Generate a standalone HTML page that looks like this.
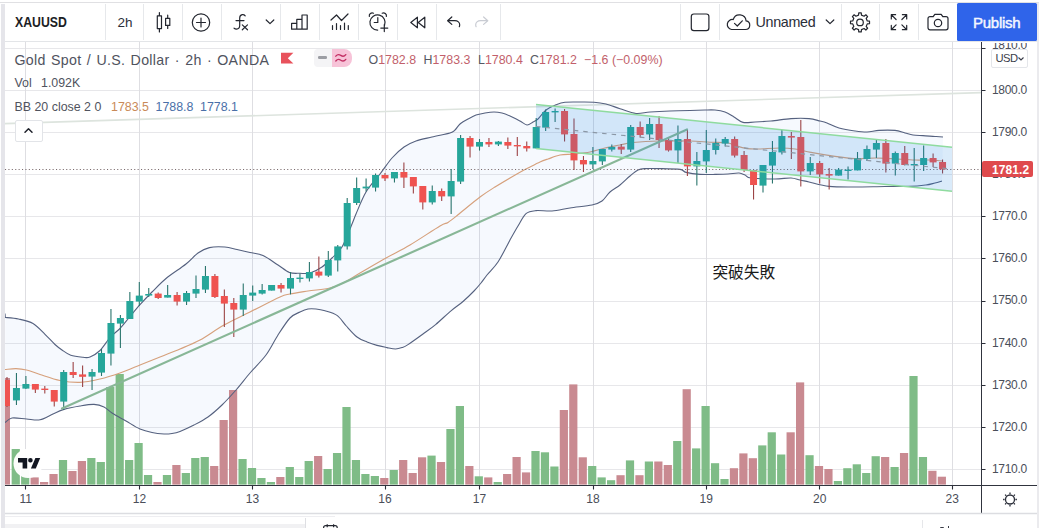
<!DOCTYPE html>
<html><head><meta charset="utf-8"><title>XAUUSD</title>
<style>
html,body{margin:0;padding:0;background:#fff;}
body{width:1039px;height:528px;position:relative;overflow:hidden;font-family:"Liberation Sans",sans-serif;color:#4a4e59;}
.chart{position:absolute;left:0;top:0;}
.t{position:absolute;white-space:nowrap;line-height:1;}
.sep{position:absolute;top:4px;width:1px;height:36px;background:#e6e8eb;}
.ic{position:absolute;}
.ax{position:absolute;left:992px;font-size:12px;letter-spacing:-0.3px;color:#4a4e59;line-height:1;white-space:nowrap;}
.day{position:absolute;top:493px;font-size:12px;color:#4a4e59;line-height:1;width:40px;text-align:center;}
</style></head><body>

<svg class="chart" width="1039" height="528" viewBox="0 0 1039 528">
<path d="M5 48.5H981M5 90.5H981M5 132.5H981M5 174.5H981M5 216.5H981M5 258.5H981M5 301.5H981M5 343.5H981M5 385.5H981M5 427.5H981M5 469.5H981" stroke="#e7e7ea" stroke-width="1" fill="none"/>
<path d="M25.5 42V485M139.5 42V485M252.5 42V485M385.5 42V485M479.5 42V485M593.5 42V485M706.5 42V485M819.5 42V485M952.5 42V485" stroke="#dedee2" stroke-width="1" fill="none"/>
<line x1="5" y1="123.6" x2="981" y2="92.6" stroke="#dde4de" stroke-width="1.6"/>
<path d="M5.3 317.5C7.4 317.7 14.1 318.0 18.5 319.0C22.9 320.0 28.8 321.1 33.0 323.5C37.2 325.9 41.5 330.9 45.0 334.3C48.5 337.7 52.3 342.0 55.0 344.5C57.7 347.0 59.5 348.3 62.0 350.0C64.5 351.7 67.4 354.1 70.8 355.3C74.2 356.5 79.9 357.0 83.0 357.3C86.1 357.6 87.3 358.1 90.0 357.0C92.7 355.9 96.7 353.7 100.0 350.5C103.3 347.3 107.3 340.5 110.5 337.0C113.7 333.5 116.9 331.8 120.0 328.5C123.1 325.2 126.8 320.3 130.0 316.5C133.2 312.7 136.5 308.6 140.0 304.7C143.5 300.8 147.8 296.2 152.0 292.0C156.2 287.8 160.6 283.0 166.0 278.5C171.4 274.0 180.9 268.1 186.0 264.0C191.1 259.9 194.3 255.6 198.0 253.0C201.7 250.4 205.1 248.6 209.4 247.6C213.7 246.6 220.4 246.7 224.8 247.0C229.2 247.3 233.0 248.6 237.0 249.5C241.0 250.4 245.8 251.5 250.0 252.5C254.2 253.5 258.5 253.5 263.0 255.5C267.5 257.5 273.8 262.3 278.0 265.0C282.2 267.7 286.0 271.2 289.5 272.5C293.0 273.8 296.7 273.2 300.0 273.3C303.3 273.4 306.5 274.0 310.0 273.0C313.5 272.0 318.5 269.4 322.0 267.0C325.5 264.6 328.8 261.2 332.0 258.0C335.2 254.8 338.8 252.4 342.0 247.0C345.2 241.6 349.8 229.3 352.0 224.0C354.2 218.7 353.8 219.1 356.0 214.0C358.2 208.9 362.2 198.4 366.0 192.0C369.8 185.6 375.8 179.4 380.0 174.0C384.2 168.6 388.2 162.3 392.0 158.0C395.8 153.7 400.2 149.7 404.0 147.0C407.8 144.3 411.5 142.6 416.0 141.0C420.5 139.4 426.6 138.3 432.0 137.0C437.4 135.7 446.3 134.1 450.0 133.0C453.7 131.9 453.4 131.4 455.0 130.0C456.6 128.6 457.9 125.8 460.0 124.0C462.1 122.2 465.4 120.4 468.0 119.0C470.6 117.6 473.3 116.0 476.0 115.0C478.7 114.0 482.1 113.5 485.0 113.0C487.9 112.5 491.3 112.0 494.0 112.0C496.7 112.0 499.4 112.4 502.0 113.0C504.6 113.6 507.1 114.7 510.0 116.0C512.9 117.3 517.3 119.6 520.0 121.0C522.7 122.4 524.9 124.8 527.0 125.0C529.1 125.2 531.2 123.0 533.0 122.0C534.8 121.0 535.9 120.9 538.0 119.0C540.1 117.1 543.1 112.3 546.0 110.0C548.9 107.7 553.0 105.9 556.0 104.7C559.0 103.5 561.2 102.6 565.0 102.2C568.8 101.8 575.4 102.0 580.0 102.0C584.6 102.0 589.8 101.9 594.0 102.2C598.2 102.5 601.8 103.0 606.0 104.0C610.2 105.0 615.2 107.2 620.0 108.7C624.8 110.2 631.2 113.0 636.0 113.5C640.8 114.0 644.6 112.4 650.0 112.0C655.4 111.6 663.6 111.2 670.0 111.0C676.4 110.8 684.4 110.7 690.0 110.5C695.6 110.3 701.0 110.1 705.0 110.0C709.0 109.9 711.8 109.7 715.0 110.0C718.2 110.3 722.0 110.9 725.0 112.0C728.0 113.1 731.1 115.3 734.0 117.0C736.9 118.7 739.6 121.6 743.0 122.4C746.4 123.2 750.5 122.2 755.0 122.0C759.5 121.8 765.2 121.5 771.0 121.0C776.8 120.5 784.9 119.0 791.0 118.6C797.1 118.2 804.4 118.2 809.0 118.6C813.6 119.0 817.1 120.3 820.0 121.0C822.9 121.7 824.0 121.9 827.0 123.0C830.0 124.1 834.5 126.7 839.0 128.0C843.5 129.3 850.5 130.4 855.0 131.0C859.5 131.6 863.2 132.1 867.0 132.0C870.8 131.9 874.5 130.7 879.0 130.4C883.5 130.1 890.8 130.0 895.0 130.4C899.2 130.8 902.1 132.3 905.0 133.0C907.9 133.7 910.1 134.6 913.0 135.0C915.9 135.4 919.5 135.4 923.0 135.6C926.5 135.8 931.8 136.3 935.0 136.5C938.2 136.7 941.7 136.9 943.0 137.0L942.0 181.0C940.9 181.3 937.6 182.4 935.0 183.0C932.4 183.6 930.0 184.5 926.0 185.0C922.0 185.5 916.6 186.2 910.0 186.4C903.4 186.6 893.8 186.4 885.0 186.5C876.2 186.6 864.0 187.0 855.0 187.0C846.0 187.0 836.4 187.2 829.0 186.4C821.6 185.6 813.6 183.0 809.0 182.0C804.4 181.0 802.9 180.6 800.0 180.0C797.1 179.4 795.0 178.2 791.0 178.0C787.0 177.8 781.4 179.0 775.0 179.0C768.6 179.0 755.8 178.6 751.0 178.0C746.2 177.4 746.9 175.8 745.0 175.0C743.1 174.2 741.7 173.2 739.0 173.0C736.3 172.8 731.8 173.8 728.0 174.0C724.2 174.2 719.5 174.3 715.0 174.4C710.5 174.5 704.6 174.7 700.0 174.4C695.4 174.1 689.2 173.2 686.0 172.4C682.8 171.6 684.2 170.0 680.0 169.4C675.8 168.8 665.6 168.7 660.0 168.6C654.4 168.5 648.5 168.4 645.0 168.6C641.5 168.8 640.4 168.8 638.0 170.0C635.6 171.2 632.9 173.6 630.0 176.0C627.1 178.4 623.2 182.4 620.0 185.0C616.8 187.6 612.9 189.4 610.0 192.0C607.1 194.6 604.9 198.9 602.0 201.0C599.1 203.1 597.1 203.9 592.0 205.0C586.9 206.1 576.4 207.0 570.0 208.0C563.6 209.0 557.4 210.6 552.0 211.0C546.6 211.4 540.2 210.2 536.0 210.6C531.8 211.0 528.9 211.1 526.0 213.6C523.1 216.1 520.6 221.8 518.0 226.0C515.4 230.2 513.2 234.2 510.0 240.0C506.8 245.8 501.7 256.4 498.0 262.0C494.3 267.6 489.7 271.6 487.0 275.0C484.3 278.4 483.1 280.4 481.0 283.0C478.9 285.6 476.9 288.0 474.0 291.0C471.1 294.0 466.7 298.3 463.0 301.5C459.3 304.7 455.4 307.1 451.0 310.8C446.6 314.5 440.1 320.9 435.6 324.6C431.1 328.3 427.4 330.8 423.0 334.0C418.6 337.2 411.4 342.4 408.0 344.6C404.6 346.8 404.0 346.9 402.0 347.6C400.0 348.3 398.0 349.0 395.6 349.0C393.2 349.0 390.0 348.2 387.0 347.6C384.0 347.0 380.2 346.3 377.0 345.4C373.8 344.5 370.2 343.3 367.0 342.0C363.8 340.7 360.3 339.6 357.0 337.0C353.7 334.4 349.5 329.5 346.3 326.0C343.1 322.5 340.4 317.8 337.0 315.4C333.6 313.0 328.4 311.8 325.0 310.8C321.6 309.8 318.7 309.3 316.0 309.0C313.3 308.7 310.6 308.5 308.0 309.0C305.4 309.5 302.9 310.6 300.0 312.0C297.1 313.4 293.5 314.3 290.0 318.0C286.5 321.7 281.8 329.1 278.0 335.0C274.2 340.9 270.5 348.9 266.0 355.0C261.5 361.1 254.8 367.4 250.0 373.0C245.2 378.6 240.5 384.9 236.0 390.0C231.5 395.1 226.5 400.7 222.0 405.0C217.5 409.3 212.5 413.8 208.0 417.0C203.5 420.2 198.5 422.7 194.0 425.0C189.5 427.3 183.5 430.0 180.0 431.4C176.5 432.8 174.6 433.1 172.0 433.5C169.4 433.9 167.2 434.2 164.0 434.0C160.8 433.8 155.8 433.3 152.0 432.5C148.2 431.7 144.2 430.8 140.0 429.0C135.8 427.2 130.5 423.6 126.0 421.0C121.5 418.4 115.5 415.2 112.0 413.0C108.5 410.8 106.9 408.4 104.0 407.0C101.1 405.6 97.8 404.6 94.0 404.4C90.2 404.2 84.8 405.2 80.0 406.0C75.2 406.8 68.3 408.1 64.0 409.4C59.7 410.7 56.8 412.3 53.0 414.0C49.2 415.7 44.2 419.0 40.0 419.8C35.8 420.6 31.0 419.3 26.5 419.0C22.0 418.7 15.4 417.4 12.0 418.0C8.6 418.6 6.1 421.8 5.0 422.5Z" fill="#2f7fe0" fill-opacity="0.042"/>
<rect x="5.00" y="378.0" width="5.00" height="106.6" fill="#c98a91"/>
<rect x="11.65" y="449.0" width="8.20" height="35.6" fill="#7fbc87"/>
<rect x="21.10" y="470.0" width="8.20" height="14.6" fill="#7fbc87"/>
<rect x="30.55" y="477.4" width="8.20" height="7.2" fill="#c98a91"/>
<rect x="40.00" y="482.0" width="8.20" height="2.6" fill="#c98a91"/>
<rect x="49.45" y="474.0" width="8.20" height="10.6" fill="#c98a91"/>
<rect x="58.90" y="460.0" width="8.20" height="24.6" fill="#7fbc87"/>
<rect x="68.35" y="471.0" width="8.20" height="13.6" fill="#c98a91"/>
<rect x="77.80" y="461.0" width="8.20" height="23.6" fill="#c98a91"/>
<rect x="87.25" y="458.0" width="8.20" height="26.6" fill="#7fbc87"/>
<rect x="96.70" y="462.0" width="8.20" height="22.6" fill="#7fbc87"/>
<rect x="106.15" y="387.0" width="8.20" height="97.6" fill="#7fbc87"/>
<rect x="115.60" y="374.0" width="8.20" height="110.6" fill="#7fbc87"/>
<rect x="125.05" y="460.0" width="8.20" height="24.6" fill="#7fbc87"/>
<rect x="134.50" y="443.0" width="8.20" height="41.6" fill="#7fbc87"/>
<rect x="143.95" y="475.0" width="8.20" height="9.6" fill="#7fbc87"/>
<rect x="153.40" y="482.0" width="8.20" height="2.6" fill="#c98a91"/>
<rect x="162.85" y="475.0" width="8.20" height="9.6" fill="#7fbc87"/>
<rect x="172.30" y="465.0" width="8.20" height="19.6" fill="#c98a91"/>
<rect x="181.75" y="473.0" width="8.20" height="11.6" fill="#7fbc87"/>
<rect x="191.20" y="458.0" width="8.20" height="26.6" fill="#7fbc87"/>
<rect x="200.65" y="457.0" width="8.20" height="27.6" fill="#7fbc87"/>
<rect x="210.10" y="466.0" width="8.20" height="18.6" fill="#c98a91"/>
<rect x="219.55" y="420.0" width="8.20" height="64.6" fill="#c98a91"/>
<rect x="229.00" y="390.0" width="8.20" height="94.6" fill="#c98a91"/>
<rect x="238.45" y="459.0" width="8.20" height="25.6" fill="#7fbc87"/>
<rect x="247.90" y="468.0" width="8.20" height="16.6" fill="#7fbc87"/>
<rect x="257.35" y="478.0" width="8.20" height="6.6" fill="#7fbc87"/>
<rect x="266.80" y="482.0" width="8.20" height="2.6" fill="#7fbc87"/>
<rect x="276.25" y="477.0" width="8.20" height="7.6" fill="#c98a91"/>
<rect x="285.70" y="467.0" width="8.20" height="17.6" fill="#7fbc87"/>
<rect x="295.15" y="477.0" width="8.20" height="7.6" fill="#7fbc87"/>
<rect x="304.60" y="461.0" width="8.20" height="23.6" fill="#7fbc87"/>
<rect x="314.05" y="456.0" width="8.20" height="28.6" fill="#c98a91"/>
<rect x="323.50" y="469.0" width="8.20" height="15.6" fill="#7fbc87"/>
<rect x="332.95" y="453.0" width="8.20" height="31.6" fill="#7fbc87"/>
<rect x="342.40" y="407.0" width="8.20" height="77.6" fill="#7fbc87"/>
<rect x="351.85" y="460.0" width="8.20" height="24.6" fill="#7fbc87"/>
<rect x="361.30" y="474.0" width="8.20" height="10.6" fill="#7fbc87"/>
<rect x="370.75" y="476.0" width="8.20" height="8.6" fill="#7fbc87"/>
<rect x="380.20" y="478.0" width="8.20" height="6.6" fill="#c98a91"/>
<rect x="389.65" y="470.0" width="8.20" height="14.6" fill="#7fbc87"/>
<rect x="399.10" y="460.0" width="8.20" height="24.6" fill="#c98a91"/>
<rect x="408.55" y="473.0" width="8.20" height="11.6" fill="#c98a91"/>
<rect x="418.00" y="457.3" width="8.20" height="27.3" fill="#c98a91"/>
<rect x="427.45" y="455.6" width="8.20" height="29.0" fill="#7fbc87"/>
<rect x="436.90" y="462.0" width="8.20" height="22.6" fill="#c98a91"/>
<rect x="446.35" y="429.0" width="8.20" height="55.6" fill="#7fbc87"/>
<rect x="455.80" y="406.0" width="8.20" height="78.6" fill="#7fbc87"/>
<rect x="465.25" y="466.0" width="8.20" height="18.6" fill="#c98a91"/>
<rect x="474.70" y="476.3" width="8.20" height="8.3" fill="#7fbc87"/>
<rect x="484.15" y="477.4" width="8.20" height="7.2" fill="#c98a91"/>
<rect x="493.60" y="482.0" width="8.20" height="2.6" fill="#7fbc87"/>
<rect x="503.05" y="474.0" width="8.20" height="10.6" fill="#c98a91"/>
<rect x="512.50" y="457.0" width="8.20" height="27.6" fill="#c98a91"/>
<rect x="521.95" y="472.4" width="8.20" height="12.2" fill="#c98a91"/>
<rect x="531.40" y="451.0" width="8.20" height="33.6" fill="#7fbc87"/>
<rect x="540.85" y="452.3" width="8.20" height="32.3" fill="#7fbc87"/>
<rect x="550.30" y="466.5" width="8.20" height="18.1" fill="#7fbc87"/>
<rect x="559.75" y="410.0" width="8.20" height="74.6" fill="#c98a91"/>
<rect x="569.20" y="384.4" width="8.20" height="100.2" fill="#c98a91"/>
<rect x="578.65" y="457.3" width="8.20" height="27.3" fill="#c98a91"/>
<rect x="588.10" y="466.0" width="8.20" height="18.6" fill="#7fbc87"/>
<rect x="597.55" y="477.4" width="8.20" height="7.2" fill="#7fbc87"/>
<rect x="607.00" y="480.2" width="8.20" height="4.4" fill="#7fbc87"/>
<rect x="616.45" y="475.2" width="8.20" height="9.4" fill="#c98a91"/>
<rect x="625.90" y="460.4" width="8.20" height="24.2" fill="#7fbc87"/>
<rect x="635.35" y="475.2" width="8.20" height="9.4" fill="#c98a91"/>
<rect x="644.80" y="461.5" width="8.20" height="23.1" fill="#7fbc87"/>
<rect x="654.25" y="461.5" width="8.20" height="23.1" fill="#c98a91"/>
<rect x="663.70" y="465.0" width="8.20" height="19.6" fill="#c98a91"/>
<rect x="673.15" y="441.0" width="8.20" height="43.6" fill="#7fbc87"/>
<rect x="682.60" y="389.2" width="8.20" height="95.4" fill="#c98a91"/>
<rect x="692.05" y="448.4" width="8.20" height="36.2" fill="#7fbc87"/>
<rect x="701.50" y="406.0" width="8.20" height="78.6" fill="#7fbc87"/>
<rect x="710.95" y="463.2" width="8.20" height="21.4" fill="#7fbc87"/>
<rect x="720.40" y="479.0" width="8.20" height="5.6" fill="#7fbc87"/>
<rect x="729.85" y="468.2" width="8.20" height="16.4" fill="#c98a91"/>
<rect x="739.30" y="453.4" width="8.20" height="31.2" fill="#c98a91"/>
<rect x="748.75" y="458.2" width="8.20" height="26.4" fill="#c98a91"/>
<rect x="758.20" y="445.4" width="8.20" height="39.2" fill="#7fbc87"/>
<rect x="767.65" y="432.3" width="8.20" height="52.3" fill="#7fbc87"/>
<rect x="777.10" y="454.5" width="8.20" height="30.1" fill="#7fbc87"/>
<rect x="786.55" y="432.3" width="8.20" height="52.3" fill="#c98a91"/>
<rect x="796.00" y="382.4" width="8.20" height="102.2" fill="#c98a91"/>
<rect x="805.45" y="455.2" width="8.20" height="29.4" fill="#7fbc87"/>
<rect x="814.90" y="466.0" width="8.20" height="18.6" fill="#c98a91"/>
<rect x="824.35" y="469.0" width="8.20" height="15.6" fill="#c98a91"/>
<rect x="833.80" y="481.0" width="8.20" height="3.6" fill="#7fbc87"/>
<rect x="843.25" y="468.2" width="8.20" height="16.4" fill="#7fbc87"/>
<rect x="852.70" y="464.3" width="8.20" height="20.3" fill="#7fbc87"/>
<rect x="862.15" y="473.0" width="8.20" height="11.6" fill="#7fbc87"/>
<rect x="871.60" y="456.2" width="8.20" height="28.4" fill="#7fbc87"/>
<rect x="881.05" y="457.0" width="8.20" height="27.6" fill="#c98a91"/>
<rect x="890.50" y="467.0" width="8.20" height="17.6" fill="#7fbc87"/>
<rect x="899.95" y="453.0" width="8.20" height="31.6" fill="#c98a91"/>
<rect x="909.40" y="376.0" width="8.20" height="108.6" fill="#7fbc87"/>
<rect x="918.85" y="457.0" width="8.20" height="27.6" fill="#7fbc87"/>
<rect x="928.30" y="470.8" width="8.20" height="13.8" fill="#c98a91"/>
<rect x="937.75" y="476.7" width="8.20" height="7.9" fill="#c98a91"/>
<path d="M5.0 369.5C6.8 369.4 12.6 368.5 16.0 368.6C19.4 368.7 22.7 369.1 26.5 370.0C30.3 370.9 34.6 372.8 40.0 374.5C45.4 376.2 53.6 379.2 60.0 380.5C66.4 381.8 73.6 382.6 80.0 382.4C86.4 382.2 93.6 380.5 100.0 379.0C106.4 377.5 113.6 375.2 120.0 373.0C126.4 370.8 133.6 367.6 140.0 365.0C146.4 362.4 153.6 359.6 160.0 357.0C166.4 354.4 173.6 351.7 180.0 349.0C186.4 346.3 193.0 343.8 200.0 340.0C207.0 336.2 216.0 329.5 224.0 325.0C232.0 320.5 241.0 316.5 250.0 312.0C259.0 307.5 273.6 299.9 280.0 297.0C286.4 294.1 285.5 295.0 290.0 294.0C294.5 293.0 301.6 292.0 308.0 291.0C314.4 290.0 324.1 289.4 330.0 288.0C335.9 286.6 340.2 284.4 345.0 282.0C349.8 279.6 353.4 276.8 360.0 273.0C366.6 269.2 378.0 262.5 386.0 258.0C394.0 253.5 401.4 250.1 410.0 245.0C418.6 239.9 433.9 229.6 440.0 226.0C446.1 222.4 445.1 224.2 448.0 222.4C450.9 220.6 452.9 218.9 458.0 214.8C463.1 210.7 474.1 201.4 480.0 197.0C485.9 192.6 490.2 190.0 495.0 187.0C499.8 184.0 505.4 180.7 510.0 178.0C514.6 175.3 521.1 171.6 524.0 170.0C526.9 168.4 525.4 169.3 528.0 168.0C530.6 166.7 536.8 163.4 540.0 162.0C543.2 160.6 544.8 160.1 548.0 159.0C551.2 157.9 555.8 155.8 560.0 155.0C564.2 154.2 569.2 154.5 574.0 154.0C578.8 153.5 585.0 153.0 590.0 152.0C595.0 151.0 600.2 149.1 605.0 148.0C609.8 146.9 615.5 145.9 620.0 145.0C624.5 144.1 626.8 143.1 633.0 142.5C639.2 141.9 649.9 141.2 659.0 141.0C668.1 140.8 681.8 140.8 690.0 141.0C698.2 141.2 703.9 141.9 710.0 142.2C716.1 142.5 724.0 142.5 728.0 143.0C732.0 143.5 732.0 144.7 735.0 145.6C738.0 146.5 743.3 148.1 747.0 148.6C750.7 149.1 752.7 149.1 758.0 149.0C763.3 148.9 774.1 148.0 780.0 148.0C785.9 148.0 790.0 148.3 795.0 149.0C800.0 149.7 804.6 151.2 811.0 152.4C817.4 153.6 828.0 155.4 835.0 156.4C842.0 157.4 848.6 158.3 855.0 158.6C861.4 158.9 869.2 158.0 875.0 158.0C880.8 158.0 884.6 158.3 891.0 158.6C897.4 158.9 908.8 159.8 915.0 160.0C921.2 160.2 925.7 159.8 930.0 160.0C934.3 160.2 940.1 160.8 942.0 161.0" fill="none" stroke="#d6a07c" stroke-width="1.15"/>
<path d="M5.0 313.5L5.3 317.5C7.4 317.7 14.1 318.0 18.5 319.0C22.9 320.0 28.8 321.1 33.0 323.5C37.2 325.9 41.5 330.9 45.0 334.3C48.5 337.7 52.3 342.0 55.0 344.5C57.7 347.0 59.5 348.3 62.0 350.0C64.5 351.7 67.4 354.1 70.8 355.3C74.2 356.5 79.9 357.0 83.0 357.3C86.1 357.6 87.3 358.1 90.0 357.0C92.7 355.9 96.7 353.7 100.0 350.5C103.3 347.3 107.3 340.5 110.5 337.0C113.7 333.5 116.9 331.8 120.0 328.5C123.1 325.2 126.8 320.3 130.0 316.5C133.2 312.7 136.5 308.6 140.0 304.7C143.5 300.8 147.8 296.2 152.0 292.0C156.2 287.8 160.6 283.0 166.0 278.5C171.4 274.0 180.9 268.1 186.0 264.0C191.1 259.9 194.3 255.6 198.0 253.0C201.7 250.4 205.1 248.6 209.4 247.6C213.7 246.6 220.4 246.7 224.8 247.0C229.2 247.3 233.0 248.6 237.0 249.5C241.0 250.4 245.8 251.5 250.0 252.5C254.2 253.5 258.5 253.5 263.0 255.5C267.5 257.5 273.8 262.3 278.0 265.0C282.2 267.7 286.0 271.2 289.5 272.5C293.0 273.8 296.7 273.2 300.0 273.3C303.3 273.4 306.5 274.0 310.0 273.0C313.5 272.0 318.5 269.4 322.0 267.0C325.5 264.6 328.8 261.2 332.0 258.0C335.2 254.8 338.8 252.4 342.0 247.0C345.2 241.6 349.8 229.3 352.0 224.0C354.2 218.7 353.8 219.1 356.0 214.0C358.2 208.9 362.2 198.4 366.0 192.0C369.8 185.6 375.8 179.4 380.0 174.0C384.2 168.6 388.2 162.3 392.0 158.0C395.8 153.7 400.2 149.7 404.0 147.0C407.8 144.3 411.5 142.6 416.0 141.0C420.5 139.4 426.6 138.3 432.0 137.0C437.4 135.7 446.3 134.1 450.0 133.0C453.7 131.9 453.4 131.4 455.0 130.0C456.6 128.6 457.9 125.8 460.0 124.0C462.1 122.2 465.4 120.4 468.0 119.0C470.6 117.6 473.3 116.0 476.0 115.0C478.7 114.0 482.1 113.5 485.0 113.0C487.9 112.5 491.3 112.0 494.0 112.0C496.7 112.0 499.4 112.4 502.0 113.0C504.6 113.6 507.1 114.7 510.0 116.0C512.9 117.3 517.3 119.6 520.0 121.0C522.7 122.4 524.9 124.8 527.0 125.0C529.1 125.2 531.2 123.0 533.0 122.0C534.8 121.0 535.9 120.9 538.0 119.0C540.1 117.1 543.1 112.3 546.0 110.0C548.9 107.7 553.0 105.9 556.0 104.7C559.0 103.5 561.2 102.6 565.0 102.2C568.8 101.8 575.4 102.0 580.0 102.0C584.6 102.0 589.8 101.9 594.0 102.2C598.2 102.5 601.8 103.0 606.0 104.0C610.2 105.0 615.2 107.2 620.0 108.7C624.8 110.2 631.2 113.0 636.0 113.5C640.8 114.0 644.6 112.4 650.0 112.0C655.4 111.6 663.6 111.2 670.0 111.0C676.4 110.8 684.4 110.7 690.0 110.5C695.6 110.3 701.0 110.1 705.0 110.0C709.0 109.9 711.8 109.7 715.0 110.0C718.2 110.3 722.0 110.9 725.0 112.0C728.0 113.1 731.1 115.3 734.0 117.0C736.9 118.7 739.6 121.6 743.0 122.4C746.4 123.2 750.5 122.2 755.0 122.0C759.5 121.8 765.2 121.5 771.0 121.0C776.8 120.5 784.9 119.0 791.0 118.6C797.1 118.2 804.4 118.2 809.0 118.6C813.6 119.0 817.1 120.3 820.0 121.0C822.9 121.7 824.0 121.9 827.0 123.0C830.0 124.1 834.5 126.7 839.0 128.0C843.5 129.3 850.5 130.4 855.0 131.0C859.5 131.6 863.2 132.1 867.0 132.0C870.8 131.9 874.5 130.7 879.0 130.4C883.5 130.1 890.8 130.0 895.0 130.4C899.2 130.8 902.1 132.3 905.0 133.0C907.9 133.7 910.1 134.6 913.0 135.0C915.9 135.4 919.5 135.4 923.0 135.6C926.5 135.8 931.8 136.3 935.0 136.5C938.2 136.7 941.7 136.9 943.0 137.0" fill="none" stroke="#55617f" stroke-width="1.1" stroke-linejoin="round"/>
<path d="M5.0 422.5C6.1 421.8 8.6 418.6 12.0 418.0C15.4 417.4 22.0 418.7 26.5 419.0C31.0 419.3 35.8 420.6 40.0 419.8C44.2 419.0 49.2 415.7 53.0 414.0C56.8 412.3 59.7 410.7 64.0 409.4C68.3 408.1 75.2 406.8 80.0 406.0C84.8 405.2 90.2 404.2 94.0 404.4C97.8 404.6 101.1 405.6 104.0 407.0C106.9 408.4 108.5 410.8 112.0 413.0C115.5 415.2 121.5 418.4 126.0 421.0C130.5 423.6 135.8 427.2 140.0 429.0C144.2 430.8 148.2 431.7 152.0 432.5C155.8 433.3 160.8 433.8 164.0 434.0C167.2 434.2 169.4 433.9 172.0 433.5C174.6 433.1 176.5 432.8 180.0 431.4C183.5 430.0 189.5 427.3 194.0 425.0C198.5 422.7 203.5 420.2 208.0 417.0C212.5 413.8 217.5 409.3 222.0 405.0C226.5 400.7 231.5 395.1 236.0 390.0C240.5 384.9 245.2 378.6 250.0 373.0C254.8 367.4 261.5 361.1 266.0 355.0C270.5 348.9 274.2 340.9 278.0 335.0C281.8 329.1 286.5 321.7 290.0 318.0C293.5 314.3 297.1 313.4 300.0 312.0C302.9 310.6 305.4 309.5 308.0 309.0C310.6 308.5 313.3 308.7 316.0 309.0C318.7 309.3 321.6 309.8 325.0 310.8C328.4 311.8 333.6 313.0 337.0 315.4C340.4 317.8 343.1 322.5 346.3 326.0C349.5 329.5 353.7 334.4 357.0 337.0C360.3 339.6 363.8 340.7 367.0 342.0C370.2 343.3 373.8 344.5 377.0 345.4C380.2 346.3 384.0 347.0 387.0 347.6C390.0 348.2 393.2 349.0 395.6 349.0C398.0 349.0 400.0 348.3 402.0 347.6C404.0 346.9 404.6 346.8 408.0 344.6C411.4 342.4 418.6 337.2 423.0 334.0C427.4 330.8 431.1 328.3 435.6 324.6C440.1 320.9 446.6 314.5 451.0 310.8C455.4 307.1 459.3 304.7 463.0 301.5C466.7 298.3 471.1 294.0 474.0 291.0C476.9 288.0 478.9 285.6 481.0 283.0C483.1 280.4 484.3 278.4 487.0 275.0C489.7 271.6 494.3 267.6 498.0 262.0C501.7 256.4 506.8 245.8 510.0 240.0C513.2 234.2 515.4 230.2 518.0 226.0C520.6 221.8 523.1 216.1 526.0 213.6C528.9 211.1 531.8 211.0 536.0 210.6C540.2 210.2 546.6 211.4 552.0 211.0C557.4 210.6 563.6 209.0 570.0 208.0C576.4 207.0 586.9 206.1 592.0 205.0C597.1 203.9 599.1 203.1 602.0 201.0C604.9 198.9 607.1 194.6 610.0 192.0C612.9 189.4 616.8 187.6 620.0 185.0C623.2 182.4 627.1 178.4 630.0 176.0C632.9 173.6 635.6 171.2 638.0 170.0C640.4 168.8 641.5 168.8 645.0 168.6C648.5 168.4 654.4 168.5 660.0 168.6C665.6 168.7 675.8 168.8 680.0 169.4C684.2 170.0 682.8 171.6 686.0 172.4C689.2 173.2 695.4 174.1 700.0 174.4C704.6 174.7 710.5 174.5 715.0 174.4C719.5 174.3 724.2 174.2 728.0 174.0C731.8 173.8 736.3 172.8 739.0 173.0C741.7 173.2 743.1 174.2 745.0 175.0C746.9 175.8 746.2 177.4 751.0 178.0C755.8 178.6 768.6 179.0 775.0 179.0C781.4 179.0 787.0 177.8 791.0 178.0C795.0 178.2 797.1 179.4 800.0 180.0C802.9 180.6 804.4 181.0 809.0 182.0C813.6 183.0 821.6 185.6 829.0 186.4C836.4 187.2 846.0 187.0 855.0 187.0C864.0 187.0 876.2 186.6 885.0 186.5C893.8 186.4 903.4 186.6 910.0 186.4C916.6 186.2 922.0 185.5 926.0 185.0C930.0 184.5 932.4 183.6 935.0 183.0C937.6 182.4 940.9 181.3 942.0 181.0" fill="none" stroke="#55617f" stroke-width="1.1" stroke-linejoin="round"/>
<line x1="5" y1="169.5" x2="981" y2="169.5" stroke="#7a6a6c" stroke-width="1" stroke-dasharray="1.1 2.3"/>
<line x1="7.00" y1="377.0" x2="7.00" y2="407.0" stroke="#9c4446" stroke-width="1.1"/>
<rect x="5.00" y="380.0" width="5.00" height="26.0" fill="#ef5350"/>
<line x1="16.45" y1="373.0" x2="16.45" y2="405.0" stroke="#2a756d" stroke-width="1.1"/>
<rect x="12.95" y="388.0" width="7.00" height="12.4" fill="#26a69a"/>
<line x1="25.90" y1="376.0" x2="25.90" y2="389.0" stroke="#2a756d" stroke-width="1.1"/>
<rect x="22.40" y="384.0" width="7.00" height="4.6" fill="#26a69a"/>
<line x1="35.35" y1="384.0" x2="35.35" y2="393.0" stroke="#9c4446" stroke-width="1.1"/>
<rect x="31.85" y="384.0" width="7.00" height="5.6" fill="#ef5350"/>
<line x1="44.80" y1="386.0" x2="44.80" y2="393.6" stroke="#9c4446" stroke-width="1.1"/>
<rect x="41.30" y="388.6" width="7.00" height="1.4" fill="#ef5350"/>
<line x1="54.25" y1="390.0" x2="54.25" y2="406.4" stroke="#9c4446" stroke-width="1.1"/>
<rect x="50.75" y="390.0" width="7.00" height="11.6" fill="#ef5350"/>
<line x1="63.70" y1="370.0" x2="63.70" y2="410.0" stroke="#2a756d" stroke-width="1.1"/>
<rect x="60.20" y="372.0" width="7.00" height="29.6" fill="#26a69a"/>
<line x1="73.15" y1="362.0" x2="73.15" y2="378.0" stroke="#9c4446" stroke-width="1.1"/>
<rect x="69.65" y="372.0" width="7.00" height="3.0" fill="#ef5350"/>
<line x1="82.60" y1="365.6" x2="82.60" y2="387.0" stroke="#9c4446" stroke-width="1.1"/>
<rect x="79.10" y="374.4" width="7.00" height="2.4" fill="#ef5350"/>
<line x1="92.05" y1="369.0" x2="92.05" y2="390.0" stroke="#2a756d" stroke-width="1.1"/>
<rect x="88.55" y="372.0" width="7.00" height="4.6" fill="#26a69a"/>
<line x1="101.50" y1="349.0" x2="101.50" y2="376.0" stroke="#2a756d" stroke-width="1.1"/>
<rect x="98.00" y="353.0" width="7.00" height="19.6" fill="#26a69a"/>
<line x1="110.95" y1="309.0" x2="110.95" y2="365.6" stroke="#2a756d" stroke-width="1.1"/>
<rect x="107.45" y="323.0" width="7.00" height="30.6" fill="#26a69a"/>
<line x1="120.40" y1="315.0" x2="120.40" y2="348.0" stroke="#2a756d" stroke-width="1.1"/>
<rect x="116.90" y="318.0" width="7.00" height="5.6" fill="#26a69a"/>
<line x1="129.85" y1="292.0" x2="129.85" y2="319.0" stroke="#2a756d" stroke-width="1.1"/>
<rect x="126.35" y="301.0" width="7.00" height="18.0" fill="#26a69a"/>
<line x1="139.30" y1="282.0" x2="139.30" y2="306.0" stroke="#2a756d" stroke-width="1.1"/>
<rect x="135.80" y="295.6" width="7.00" height="6.0" fill="#26a69a"/>
<line x1="148.75" y1="288.0" x2="148.75" y2="297.0" stroke="#2a756d" stroke-width="1.1"/>
<rect x="145.25" y="294.0" width="7.00" height="1.6" fill="#26a69a"/>
<line x1="158.20" y1="292.4" x2="158.20" y2="299.0" stroke="#9c4446" stroke-width="1.1"/>
<rect x="154.70" y="293.6" width="7.00" height="4.4" fill="#ef5350"/>
<line x1="167.65" y1="285.0" x2="167.65" y2="297.6" stroke="#2a756d" stroke-width="1.1"/>
<rect x="164.15" y="295.0" width="7.00" height="2.6" fill="#26a69a"/>
<line x1="177.10" y1="292.0" x2="177.10" y2="305.6" stroke="#9c4446" stroke-width="1.1"/>
<rect x="173.60" y="295.0" width="7.00" height="6.6" fill="#ef5350"/>
<line x1="186.55" y1="291.0" x2="186.55" y2="305.0" stroke="#2a756d" stroke-width="1.1"/>
<rect x="183.05" y="293.0" width="7.00" height="8.6" fill="#26a69a"/>
<line x1="196.00" y1="275.6" x2="196.00" y2="298.0" stroke="#2a756d" stroke-width="1.1"/>
<rect x="192.50" y="289.0" width="7.00" height="4.6" fill="#26a69a"/>
<line x1="205.45" y1="266.0" x2="205.45" y2="293.0" stroke="#2a756d" stroke-width="1.1"/>
<rect x="201.95" y="276.0" width="7.00" height="13.6" fill="#26a69a"/>
<line x1="214.90" y1="274.0" x2="214.90" y2="298.0" stroke="#9c4446" stroke-width="1.1"/>
<rect x="211.40" y="276.0" width="7.00" height="21.0" fill="#ef5350"/>
<line x1="224.35" y1="289.6" x2="224.35" y2="327.0" stroke="#9c4446" stroke-width="1.1"/>
<rect x="220.85" y="296.0" width="7.00" height="7.6" fill="#ef5350"/>
<line x1="233.80" y1="298.0" x2="233.80" y2="337.0" stroke="#9c4446" stroke-width="1.1"/>
<rect x="230.30" y="303.0" width="7.00" height="6.6" fill="#ef5350"/>
<line x1="243.25" y1="283.6" x2="243.25" y2="316.0" stroke="#2a756d" stroke-width="1.1"/>
<rect x="239.75" y="295.0" width="7.00" height="14.6" fill="#26a69a"/>
<line x1="252.70" y1="285.6" x2="252.70" y2="301.0" stroke="#2a756d" stroke-width="1.1"/>
<rect x="249.20" y="292.6" width="7.00" height="3.0" fill="#26a69a"/>
<line x1="262.15" y1="284.0" x2="262.15" y2="294.4" stroke="#2a756d" stroke-width="1.1"/>
<rect x="258.65" y="290.0" width="7.00" height="3.6" fill="#26a69a"/>
<line x1="271.60" y1="285.0" x2="271.60" y2="290.6" stroke="#2a756d" stroke-width="1.1"/>
<rect x="268.10" y="285.0" width="7.00" height="5.6" fill="#26a69a"/>
<line x1="281.05" y1="283.0" x2="281.05" y2="292.4" stroke="#9c4446" stroke-width="1.1"/>
<rect x="277.55" y="285.0" width="7.00" height="3.6" fill="#ef5350"/>
<line x1="290.50" y1="272.0" x2="290.50" y2="294.4" stroke="#2a756d" stroke-width="1.1"/>
<rect x="287.00" y="278.0" width="7.00" height="10.6" fill="#26a69a"/>
<line x1="299.95" y1="273.6" x2="299.95" y2="282.4" stroke="#2a756d" stroke-width="1.1"/>
<rect x="296.45" y="277.6" width="7.00" height="1.4" fill="#26a69a"/>
<line x1="309.40" y1="262.0" x2="309.40" y2="281.6" stroke="#2a756d" stroke-width="1.1"/>
<rect x="305.90" y="272.0" width="7.00" height="6.4" fill="#26a69a"/>
<line x1="318.85" y1="256.4" x2="318.85" y2="277.6" stroke="#9c4446" stroke-width="1.1"/>
<rect x="315.35" y="271.6" width="7.00" height="4.0" fill="#ef5350"/>
<line x1="328.30" y1="251.0" x2="328.30" y2="277.0" stroke="#2a756d" stroke-width="1.1"/>
<rect x="324.80" y="260.0" width="7.00" height="15.6" fill="#26a69a"/>
<line x1="337.75" y1="245.0" x2="337.75" y2="271.6" stroke="#2a756d" stroke-width="1.1"/>
<rect x="334.25" y="246.4" width="7.00" height="14.0" fill="#26a69a"/>
<line x1="347.20" y1="198.0" x2="347.20" y2="249.6" stroke="#2a756d" stroke-width="1.1"/>
<rect x="343.70" y="203.0" width="7.00" height="43.4" fill="#26a69a"/>
<line x1="356.65" y1="177.6" x2="356.65" y2="205.0" stroke="#2a756d" stroke-width="1.1"/>
<rect x="353.15" y="188.0" width="7.00" height="15.0" fill="#26a69a"/>
<line x1="366.10" y1="178.4" x2="366.10" y2="191.6" stroke="#2a756d" stroke-width="1.1"/>
<rect x="362.60" y="186.6" width="7.00" height="1.8" fill="#26a69a"/>
<line x1="375.55" y1="173.6" x2="375.55" y2="191.6" stroke="#2a756d" stroke-width="1.1"/>
<rect x="372.05" y="175.0" width="7.00" height="12.6" fill="#26a69a"/>
<line x1="385.00" y1="173.0" x2="385.00" y2="181.0" stroke="#9c4446" stroke-width="1.1"/>
<rect x="381.50" y="175.0" width="7.00" height="3.4" fill="#ef5350"/>
<line x1="394.45" y1="172.0" x2="394.45" y2="182.4" stroke="#2a756d" stroke-width="1.1"/>
<rect x="390.95" y="172.0" width="7.00" height="6.4" fill="#26a69a"/>
<line x1="403.90" y1="162.4" x2="403.90" y2="188.0" stroke="#9c4446" stroke-width="1.1"/>
<rect x="400.40" y="172.0" width="7.00" height="5.6" fill="#ef5350"/>
<line x1="413.35" y1="177.0" x2="413.35" y2="193.6" stroke="#9c4446" stroke-width="1.1"/>
<rect x="409.85" y="177.0" width="7.00" height="9.4" fill="#ef5350"/>
<line x1="422.80" y1="186.0" x2="422.80" y2="209.6" stroke="#9c4446" stroke-width="1.1"/>
<rect x="419.30" y="186.0" width="7.00" height="16.4" fill="#ef5350"/>
<line x1="432.25" y1="185.6" x2="432.25" y2="204.4" stroke="#2a756d" stroke-width="1.1"/>
<rect x="428.75" y="191.0" width="7.00" height="11.4" fill="#26a69a"/>
<line x1="441.70" y1="188.4" x2="441.70" y2="201.0" stroke="#9c4446" stroke-width="1.1"/>
<rect x="438.20" y="191.0" width="7.00" height="5.4" fill="#ef5350"/>
<line x1="451.15" y1="169.0" x2="451.15" y2="214.0" stroke="#2a756d" stroke-width="1.1"/>
<rect x="447.65" y="181.0" width="7.00" height="15.4" fill="#26a69a"/>
<line x1="460.60" y1="135.0" x2="460.60" y2="184.0" stroke="#2a756d" stroke-width="1.1"/>
<rect x="457.10" y="138.0" width="7.00" height="43.6" fill="#26a69a"/>
<line x1="470.05" y1="136.0" x2="470.05" y2="157.6" stroke="#9c4446" stroke-width="1.1"/>
<rect x="466.55" y="138.0" width="7.00" height="8.6" fill="#ef5350"/>
<line x1="479.50" y1="139.0" x2="479.50" y2="150.6" stroke="#2a756d" stroke-width="1.1"/>
<rect x="476.00" y="142.0" width="7.00" height="4.6" fill="#26a69a"/>
<line x1="488.95" y1="138.0" x2="488.95" y2="147.0" stroke="#9c4446" stroke-width="1.1"/>
<rect x="485.45" y="142.0" width="7.00" height="2.4" fill="#ef5350"/>
<line x1="498.40" y1="141.0" x2="498.40" y2="146.0" stroke="#2a756d" stroke-width="1.1"/>
<rect x="494.90" y="141.6" width="7.00" height="2.8" fill="#26a69a"/>
<line x1="507.85" y1="137.6" x2="507.85" y2="149.0" stroke="#9c4446" stroke-width="1.1"/>
<rect x="504.35" y="142.0" width="7.00" height="3.6" fill="#ef5350"/>
<line x1="517.30" y1="137.0" x2="517.30" y2="156.0" stroke="#9c4446" stroke-width="1.1"/>
<rect x="513.80" y="145.0" width="7.00" height="1.4" fill="#ef5350"/>
<line x1="526.75" y1="141.6" x2="526.75" y2="151.6" stroke="#9c4446" stroke-width="1.1"/>
<rect x="523.25" y="146.0" width="7.00" height="2.4" fill="#ef5350"/>
<line x1="536.20" y1="118.0" x2="536.20" y2="148.4" stroke="#2a756d" stroke-width="1.1"/>
<rect x="532.70" y="127.0" width="7.00" height="21.4" fill="#26a69a"/>
<line x1="545.65" y1="109.6" x2="545.65" y2="131.0" stroke="#2a756d" stroke-width="1.1"/>
<rect x="542.15" y="112.0" width="7.00" height="15.6" fill="#26a69a"/>
<line x1="555.10" y1="108.4" x2="555.10" y2="122.0" stroke="#2a756d" stroke-width="1.1"/>
<rect x="551.60" y="111.0" width="7.00" height="1.4" fill="#26a69a"/>
<line x1="564.55" y1="109.0" x2="564.55" y2="141.6" stroke="#9c4446" stroke-width="1.1"/>
<rect x="561.05" y="111.0" width="7.00" height="23.4" fill="#ef5350"/>
<line x1="574.00" y1="118.6" x2="574.00" y2="170.0" stroke="#9c4446" stroke-width="1.1"/>
<rect x="570.50" y="134.0" width="7.00" height="26.4" fill="#ef5350"/>
<line x1="583.45" y1="156.0" x2="583.45" y2="172.0" stroke="#9c4446" stroke-width="1.1"/>
<rect x="579.95" y="160.0" width="7.00" height="4.4" fill="#ef5350"/>
<line x1="592.90" y1="147.0" x2="592.90" y2="169.0" stroke="#2a756d" stroke-width="1.1"/>
<rect x="589.40" y="161.0" width="7.00" height="3.4" fill="#26a69a"/>
<line x1="602.35" y1="149.0" x2="602.35" y2="165.0" stroke="#2a756d" stroke-width="1.1"/>
<rect x="598.85" y="149.0" width="7.00" height="12.4" fill="#26a69a"/>
<line x1="611.80" y1="144.4" x2="611.80" y2="151.6" stroke="#2a756d" stroke-width="1.1"/>
<rect x="608.30" y="147.0" width="7.00" height="2.6" fill="#26a69a"/>
<line x1="621.25" y1="144.0" x2="621.25" y2="154.0" stroke="#9c4446" stroke-width="1.1"/>
<rect x="617.75" y="146.6" width="7.00" height="3.0" fill="#ef5350"/>
<line x1="630.70" y1="125.0" x2="630.70" y2="152.0" stroke="#2a756d" stroke-width="1.1"/>
<rect x="627.20" y="127.0" width="7.00" height="22.6" fill="#26a69a"/>
<line x1="640.15" y1="121.6" x2="640.15" y2="137.6" stroke="#9c4446" stroke-width="1.1"/>
<rect x="636.65" y="127.0" width="7.00" height="8.0" fill="#ef5350"/>
<line x1="649.60" y1="118.0" x2="649.60" y2="140.0" stroke="#2a756d" stroke-width="1.1"/>
<rect x="646.10" y="124.0" width="7.00" height="10.4" fill="#26a69a"/>
<line x1="659.05" y1="116.0" x2="659.05" y2="148.0" stroke="#9c4446" stroke-width="1.1"/>
<rect x="655.55" y="124.0" width="7.00" height="16.0" fill="#ef5350"/>
<line x1="668.50" y1="137.0" x2="668.50" y2="151.6" stroke="#9c4446" stroke-width="1.1"/>
<rect x="665.00" y="140.0" width="7.00" height="10.4" fill="#ef5350"/>
<line x1="677.95" y1="125.6" x2="677.95" y2="163.0" stroke="#2a756d" stroke-width="1.1"/>
<rect x="674.45" y="139.0" width="7.00" height="11.4" fill="#26a69a"/>
<line x1="687.40" y1="129.0" x2="687.40" y2="176.0" stroke="#9c4446" stroke-width="1.1"/>
<rect x="683.90" y="139.0" width="7.00" height="27.4" fill="#ef5350"/>
<line x1="696.85" y1="152.0" x2="696.85" y2="185.6" stroke="#2a756d" stroke-width="1.1"/>
<rect x="693.35" y="161.0" width="7.00" height="5.4" fill="#26a69a"/>
<line x1="706.30" y1="130.0" x2="706.30" y2="173.0" stroke="#2a756d" stroke-width="1.1"/>
<rect x="702.80" y="150.0" width="7.00" height="11.4" fill="#26a69a"/>
<line x1="715.75" y1="138.6" x2="715.75" y2="154.4" stroke="#2a756d" stroke-width="1.1"/>
<rect x="712.25" y="143.0" width="7.00" height="7.0" fill="#26a69a"/>
<line x1="725.20" y1="137.0" x2="725.20" y2="146.4" stroke="#2a756d" stroke-width="1.1"/>
<rect x="721.70" y="139.0" width="7.00" height="4.6" fill="#26a69a"/>
<line x1="734.65" y1="136.6" x2="734.65" y2="157.6" stroke="#9c4446" stroke-width="1.1"/>
<rect x="731.15" y="139.0" width="7.00" height="16.6" fill="#ef5350"/>
<line x1="744.10" y1="151.0" x2="744.10" y2="172.0" stroke="#9c4446" stroke-width="1.1"/>
<rect x="740.60" y="155.0" width="7.00" height="15.0" fill="#ef5350"/>
<line x1="753.55" y1="170.0" x2="753.55" y2="199.6" stroke="#9c4446" stroke-width="1.1"/>
<rect x="750.05" y="170.0" width="7.00" height="15.0" fill="#ef5350"/>
<line x1="763.00" y1="165.0" x2="763.00" y2="192.4" stroke="#2a756d" stroke-width="1.1"/>
<rect x="759.50" y="165.0" width="7.00" height="20.6" fill="#26a69a"/>
<line x1="772.45" y1="141.0" x2="772.45" y2="183.6" stroke="#2a756d" stroke-width="1.1"/>
<rect x="768.95" y="152.0" width="7.00" height="13.6" fill="#26a69a"/>
<line x1="781.90" y1="130.0" x2="781.90" y2="154.4" stroke="#2a756d" stroke-width="1.1"/>
<rect x="778.40" y="136.0" width="7.00" height="16.4" fill="#26a69a"/>
<line x1="791.35" y1="132.0" x2="791.35" y2="159.0" stroke="#9c4446" stroke-width="1.1"/>
<rect x="787.85" y="136.0" width="7.00" height="1.6" fill="#ef5350"/>
<line x1="800.80" y1="120.0" x2="800.80" y2="186.4" stroke="#9c4446" stroke-width="1.1"/>
<rect x="797.30" y="137.0" width="7.00" height="34.4" fill="#ef5350"/>
<line x1="810.25" y1="157.0" x2="810.25" y2="175.0" stroke="#2a756d" stroke-width="1.1"/>
<rect x="806.75" y="163.0" width="7.00" height="8.4" fill="#26a69a"/>
<line x1="819.70" y1="161.0" x2="819.70" y2="183.6" stroke="#9c4446" stroke-width="1.1"/>
<rect x="816.20" y="163.0" width="7.00" height="11.4" fill="#ef5350"/>
<line x1="829.15" y1="168.0" x2="829.15" y2="189.6" stroke="#9c4446" stroke-width="1.1"/>
<rect x="825.65" y="174.0" width="7.00" height="1.6" fill="#ef5350"/>
<line x1="838.60" y1="168.0" x2="838.60" y2="175.6" stroke="#2a756d" stroke-width="1.1"/>
<rect x="835.10" y="169.6" width="7.00" height="6.0" fill="#26a69a"/>
<line x1="848.05" y1="166.4" x2="848.05" y2="179.6" stroke="#2a756d" stroke-width="1.1"/>
<rect x="844.55" y="169.6" width="7.00" height="1.4" fill="#26a69a"/>
<line x1="857.50" y1="152.0" x2="857.50" y2="170.4" stroke="#2a756d" stroke-width="1.1"/>
<rect x="854.00" y="158.4" width="7.00" height="12.0" fill="#26a69a"/>
<line x1="866.95" y1="145.6" x2="866.95" y2="161.0" stroke="#2a756d" stroke-width="1.1"/>
<rect x="863.45" y="149.0" width="7.00" height="10.0" fill="#26a69a"/>
<line x1="876.40" y1="139.0" x2="876.40" y2="158.0" stroke="#2a756d" stroke-width="1.1"/>
<rect x="872.90" y="143.0" width="7.00" height="6.6" fill="#26a69a"/>
<line x1="885.85" y1="139.0" x2="885.85" y2="172.4" stroke="#9c4446" stroke-width="1.1"/>
<rect x="882.35" y="143.0" width="7.00" height="20.6" fill="#ef5350"/>
<line x1="895.30" y1="151.6" x2="895.30" y2="175.6" stroke="#2a756d" stroke-width="1.1"/>
<rect x="891.80" y="153.0" width="7.00" height="10.6" fill="#26a69a"/>
<line x1="904.75" y1="146.0" x2="904.75" y2="165.6" stroke="#9c4446" stroke-width="1.1"/>
<rect x="901.25" y="153.0" width="7.00" height="12.0" fill="#ef5350"/>
<line x1="914.20" y1="148.0" x2="914.20" y2="181.6" stroke="#2a756d" stroke-width="1.1"/>
<rect x="910.70" y="164.0" width="7.00" height="1.4" fill="#26a69a"/>
<line x1="923.65" y1="145.6" x2="923.65" y2="171.0" stroke="#2a756d" stroke-width="1.1"/>
<rect x="920.15" y="158.0" width="7.00" height="7.0" fill="#26a69a"/>
<line x1="933.10" y1="153.6" x2="933.10" y2="167.0" stroke="#9c4446" stroke-width="1.1"/>
<rect x="929.60" y="158.0" width="7.00" height="4.4" fill="#ef5350"/>
<line x1="942.55" y1="159.6" x2="942.55" y2="173.6" stroke="#9c4446" stroke-width="1.1"/>
<rect x="939.05" y="162.0" width="7.00" height="7.4" fill="#ef5350"/>
<line x1="62" y1="408.5" x2="687" y2="129.4" stroke="#88b797" stroke-width="2.15" stroke-linecap="round"/>
<polygon points="536,104.4 952,147.2 952,191.2 536,148.6" fill="#1482e1" fill-opacity="0.155"/>
<line x1="536" y1="104.4" x2="952" y2="147.2" stroke="#8fdb9f" stroke-width="1.5"/>
<line x1="536" y1="148.6" x2="952" y2="191.2" stroke="#8fdb9f" stroke-width="1.5"/>
<line x1="536" y1="126.5" x2="952" y2="169.2" stroke="#8b97a5" stroke-width="1.2" stroke-dasharray="4.5 5"/>
<text x="712.4" y="277.5" font-size="15.7" fill="#1a1a1a" font-family="'Liberation Sans', 'Noto Sans CJK TC', sans-serif">突破失敗</text>
<path d="M5 485.5H1037M981.5 42V513" stroke="#30343e" stroke-width="1" fill="none"/>
<path d="M25.5 485.5v4M139.5 485.5v4M252.5 485.5v4M385.5 485.5v4M479.5 485.5v4M593.5 485.5v4M706.5 485.5v4M819.5 485.5v4M952.5 485.5v4M982 48.5h3.5M982 90.5h3.5M982 132.5h3.5M982 174.5h3.5M982 216.5h3.5M982 258.5h3.5M982 301.5h3.5M982 343.5h3.5M982 385.5h3.5M982 427.5h3.5M982 469.5h3.5" stroke="#2a2e39" stroke-width="1.1" fill="none"/>
<path d="M5 513.5H1037" stroke="#dcdde1" stroke-width="1.4"/>
<circle cx="28.1" cy="463.4" r="14.6" fill="#fff" fill-opacity="0.97"/>
<path d="M18 458h9.2v10.6h-4.6v-6h-4.6zM28.6 458h0M30.4 462.6a2.3 2.3 0 1 1 0-4.6a2.3 2.3 0 0 1 0 4.6zM35.4 458h4.8l-4.4 10.6h-4.9z" fill="#131722"/>
<g stroke="#2a2e39" stroke-width="1.3" fill="none"><circle cx="1010" cy="499.5" r="4.5"/><path d="M1010 492.6v1.5M1010 504.9v1.5M1003.1 499.5h1.5M1015.4 499.5h1.5M1005.1 494.6l1.1 1.1M1013.8 503.3l1.1 1.1M1005.1 504.4l1.1-1.1M1013.8 495.7l1.1-1.1"/></g>
</svg>
<div style="position:absolute;left:0;top:2px;width:1039px;height:1.2px;background:#e0e0e3"></div>
<div style="position:absolute;left:1px;top:4px;width:3.6px;height:524px;background:#e5e5ea"></div>
<div style="position:absolute;left:1037.2px;top:3px;width:2px;height:525px;background:#ebebee"></div>
<div style="position:absolute;left:5px;top:41px;width:1032px;height:1px;background:#e3e5e8"></div>
<div style="position:absolute;left:5px;top:524px;width:300px;height:4px;background:#f1f1f3"></div>
<div style="position:absolute;left:305px;top:518px;width:1.2px;height:10px;background:#dedfe3"></div>
<div style="position:absolute;left:5px;top:516.3px;width:330px;height:1px;background:#eeeef1"></div>
<div style="position:absolute;left:921.5px;top:519.5px;width:1.5px;height:9px;background:#e6e7ea"></div>
<svg class="ic" style="left:320px;top:522px" width="24" height="6" viewBox="0 0 24 6"><path d="M3.6 6.5v-0.800a2 2 0 0 1 2-2h9.600a2 2 0 0 1 2 2v.8M7.200 2.300v3M13.600 2.300v3" stroke="#23262f" stroke-width="1.2" fill="none"/></svg>
<div style="position:absolute;left:939.5px;top:526.6px;width:4.5px;height:1.4px;background:#3a3d47;border-radius:1px 1px 0 0"></div>
<div style="position:absolute;left:947.5px;top:526.2px;width:1.2px;height:1.8px;background:#3a3d47"></div>
<div class="sep" style="left:105.0px"></div>
<div class="sep" style="left:143.3px"></div>
<div class="sep" style="left:182.0px"></div>
<div class="sep" style="left:220.6px"></div>
<div class="sep" style="left:280.2px"></div>
<div class="sep" style="left:319.2px"></div>
<div class="sep" style="left:358.3px"></div>
<div class="sep" style="left:397.2px"></div>
<div class="sep" style="left:436.0px"></div>
<div class="sep" style="left:499.5px"></div>
<div class="sep" style="left:680.0px"></div>
<div class="sep" style="left:719.3px"></div>
<div class="sep" style="left:841.0px"></div>
<div class="sep" style="left:878.8px"></div>
<div class="sep" style="left:918.0px"></div>
<div class="t" style="left:14.5px;top:15px;font-size:14.2px;font-weight:bold;color:#1c1e24;transform:scaleX(0.865);transform-origin:0 0">XAUUSD</div>
<div class="t" style="left:117.5px;top:15.5px;font-size:13.5px;color:#2a2e39">2h</div>
<svg class="ic" style="left:150px;top:8px" width="28" height="28" viewBox="0 0 28 28"><g stroke="#23262f" fill="none" stroke-width="1.2" stroke-linecap="round" stroke-linejoin="round"><path d="M9.4 4.5v3.3M9.4 20.6v3.3M7.3 7.8h4.2v12.8h-4.2zM17.7 7.2v3.2M17.7 17.4v3M15.6 10.4h4.2v7h-4.2z"/></g></svg>
<svg class="ic" style="left:187px;top:8px" width="28" height="28" viewBox="0 0 28 28"><g stroke="#23262f" fill="none" stroke-width="1.2" stroke-linecap="round" stroke-linejoin="round"><circle cx="14" cy="14.5" r="8.7"/><path d="M14 10v9M9.5 14.5h9"/></g></svg>
<svg class="ic" style="left:227px;top:8px" width="28" height="28" viewBox="0 0 28 28"><g stroke="#23262f" fill="none" stroke-width="1.2" stroke-linecap="round" stroke-linejoin="round"><path d="M18.2 7.8c-.8-1-1.900-1.400-3-1.200c-1.700.3-2.500 1.600-2.500 3.400v7.600c0 2.200-1.300 3.500-3.200 3.500c-1 0-1.800-.3-2.500-1M9 12.600h8M15.300 16.900l5.200 4.900M20.500 16.900l-5.200 4.900"/></g></svg>
<svg class="ic" style="left:264px;top:16px" width="12" height="12" viewBox="0 0 12 12"><path d="M2.2 4l3.8 3.6L9.8 4" stroke="#23262f" fill="none" stroke-width="1.2" stroke-linecap="round" stroke-linejoin="round"/></svg>
<svg class="ic" style="left:286px;top:8px" width="28" height="28" viewBox="0 0 28 28"><g stroke="#23262f" fill="none" stroke-width="1.2" stroke-linecap="round" stroke-linejoin="round"><path d="M5.6 21.2v-5.9h5.2v5.9M10.8 21.2v-9.9h5.2v9.9M16 21.2v-14.2h5.2v14.2M5.6 21.2h15.6"/></g></svg>
<svg class="ic" style="left:325px;top:8px" width="30" height="28" viewBox="0 0 30 28"><g stroke="#23262f" fill="none" stroke-width="1.2" stroke-linecap="round" stroke-linejoin="round"><path d="M6 12l5.5-5 5 5.5 6.5-6.5M7.5 17.5v4M11.5 15.500v6M15.500 17.500v4M19.500 15v6.500M23.300 17.500v4"/></g></svg>
<svg class="ic" style="left:364px;top:8px" width="30" height="28" viewBox="0 0 30 28"><g stroke="#23262f" fill="none" stroke-width="1.2" stroke-linecap="round" stroke-linejoin="round"><path d="M20.5 17.5a7.6 7.6 0 1 0-6.8 4.6M13.8 9.5v5h-3.600M5.300 8.500a3 3 0 0 1 4.200-3.300M18.200 5.200a3 3 0 0 1 4.200 3.300M20.300 16.600v7M16.800 20.100h7"/></g></svg>
<svg class="ic" style="left:404px;top:8px" width="28" height="28" viewBox="0 0 28 28"><g stroke="#23262f" fill="none" stroke-width="1.2" stroke-linecap="round" stroke-linejoin="round"><path d="M13.4 9.2v10.6l-6.6-5.3zM20.8 9.2v10.6l-6.6-5.3z"/></g></svg>
<svg class="ic" style="left:440px;top:8px" width="28" height="28" viewBox="0 0 28 28"><g stroke="#23262f" fill="none" stroke-width="1.2" stroke-linecap="round" stroke-linejoin="round"><path d="M11.8 9l-4.2 3.7 4.2 3.7M7.8 12.700h7c3 0 4.900 1.900 4.900 4.100 0 .7-.1 1.300-.4 1.900"/></g></svg>
<svg class="ic" style="left:468px;top:8px" width="28" height="28" viewBox="0 0 28 28"><g stroke="#c9ccd3" fill="none" stroke-width="1.2" stroke-linecap="round" stroke-linejoin="round"><path d="M15.6 9l4.2 3.7-4.2 3.7M19.600 12.700h-7c-3 0-4.900 1.900-4.900 4.100 0 .7.1 1.300.4 1.900"/></g></svg>
<svg class="ic" style="left:686px;top:8px" width="28" height="28" viewBox="0 0 28 28"><rect x="5.3" y="6" width="17.6" height="16.6" rx="2.6" stroke="#23262f" fill="none" stroke-width="1.2" stroke-linecap="round" stroke-linejoin="round"/></svg>
<svg class="ic" style="left:723.2px;top:8px" width="30" height="28" viewBox="0 0 30 28"><g stroke="#23262f" fill="none" stroke-width="1.2" stroke-linecap="round" stroke-linejoin="round"><path d="M8.5 21.5h14a4.3 4.3 0 0 0 .6-8.55a6.6 6.6 0 0 0-12.9-1.4a5 5 0 0 0-1.7 9.95zM11.5 15.4l2.8 2.6 5-5.2"/></g></svg>
<div class="t" style="left:755.5px;top:15.4px;font-size:14.3px;letter-spacing:-0.3px;color:#2a2e39">Unnamed</div>
<svg class="ic" style="left:824px;top:16px" width="12" height="12" viewBox="0 0 12 12"><path d="M2.2 4l3.8 3.6L9.8 4" stroke="#23262f" fill="none" stroke-width="1.2" stroke-linecap="round" stroke-linejoin="round"/></svg>
<svg class="ic" style="left:846px;top:8px" width="28" height="28" viewBox="0 0 28 28"><g stroke="#23262f" fill="none" stroke-width="1.2" stroke-linecap="round" stroke-linejoin="round"><path d="M12.53 7.15L12.76 4.88L15.24 4.88L15.47 7.15L18.09 8.23L19.85 6.79L21.61 8.55L20.17 10.31L21.25 12.93L23.52 13.16L23.52 15.64L21.25 15.87L20.17 18.49L21.61 20.25L19.85 22.01L18.09 20.57L15.47 21.65L15.24 23.92L12.76 23.92L12.53 21.65L9.91 20.57L8.15 22.01L6.39 20.25L7.83 18.49L6.75 15.87L4.48 15.64L4.48 13.16L6.75 12.93L7.83 10.31L6.39 8.55L8.15 6.79L9.91 8.23z"/><circle cx="14" cy="14.4" r="3.3"/></g></svg>
<svg class="ic" style="left:885px;top:8px" width="28" height="28" viewBox="0 0 28 28"><g stroke="#23262f" fill="none" stroke-width="1.2" stroke-linecap="round" stroke-linejoin="round"><path d="M6.3 11V6.7h4.3M6.5 6.9l4.6 4.6M17.4 6.7h4.3V11M21.5 6.9l-4.6 4.6M6.3 17.4v4.3h4.3M6.5 21.5l4.6-4.6M21.7 17.4v4.3h-4.3M21.5 21.5l-4.6-4.6"/></g></svg>
<svg class="ic" style="left:923.6px;top:8px" width="28" height="28" viewBox="0 0 28 28"><g stroke="#23262f" fill="none" stroke-width="1.2" stroke-linecap="round" stroke-linejoin="round"><path d="M4 10.6a2 2 0 0 1 2-2h3.2l1.6-2.3h6.4l1.6 2.3H22a2 2 0 0 1 2 2v9.2a2 2 0 0 1-2 2H6a2 2 0 0 1-2-2z"/><circle cx="14" cy="15" r="3.7"/></g></svg>
<div style="position:absolute;left:957.2px;top:3px;width:80.2px;height:37.6px;background:#2f64ea;border-radius:1.5px"></div>
<div class="t" style="left:973px;top:15.2px;font-size:15px;letter-spacing:-0.25px;color:#f4f7ff;-webkit-text-stroke:0.45px #f4f7ff">Publish</div>
<div class="t" style="left:14.5px;top:53px;font-size:14.2px;color:#50535e;word-spacing:1px;letter-spacing:0.33px">Gold Spot / U.S. Dollar · 2h · OANDA</div>
<svg class="ic" style="left:280px;top:51px" width="15" height="14" viewBox="0 0 15 14"><path d="M1 1.8h12.4l-5.6 5.4 5.6 5.4H1z" fill="#e8525c"/></svg>
<div style="position:absolute;left:313.7px;top:49px;width:18.2px;height:17.5px;background:#f4f4f6;border-radius:4px 0 0 4px"></div>
<div style="position:absolute;left:318.4px;top:56.3px;width:9px;height:3px;background:#9c9ea4;border-radius:1.2px"></div>
<div style="position:absolute;left:331.8px;top:49px;width:20px;height:17.5px;background:#f7c3d8;border-radius:0 8px 8px 0"></div>
<svg class="ic" style="left:334px;top:51px" width="14" height="14" viewBox="0 0 14 14"><path d="M1.8 5.2c1.6-2 3.2-2 5-.8s3.400 1.200 5-.8M1.800 10c1.600-2 3.200-2 5-.8s3.400 1.200 5-.8" stroke="#c22e63" stroke-width="1.35" fill="none" stroke-linecap="round"/></svg>
<div class="t" style="left:368.5px;top:53.5px;font-size:12.4px;color:#555863">O<span style="color:#c25f6b">1782.8</span></div>
<div class="t" style="left:423.5px;top:53.5px;font-size:12.4px;color:#555863">H<span style="color:#c25f6b">1783.3</span></div>
<div class="t" style="left:478.0px;top:53.5px;font-size:12.4px;color:#555863">L<span style="color:#c25f6b">1780.4</span></div>
<div class="t" style="left:530.0px;top:53.5px;font-size:12.4px;color:#555863">C<span style="color:#c25f6b">1781.2</span></div>
<div class="t" style="left:584px;top:53.5px;font-size:12.4px;color:#c25f6b">−1.6 (−0.09%)</div>
<div class="t" style="left:14.5px;top:77px;font-size:12.4px;color:#50535e">Vol</div>
<div class="t" style="left:41px;top:77px;font-size:12.4px;color:#50535e">1.092K</div>
<div class="t" style="left:14.5px;top:101px;font-size:12.4px;color:#50535e">BB 20 close 2 0</div>
<div class="t" style="left:111px;top:101px;font-size:12.4px;color:#c98a58">1783.5</div>
<div class="t" style="left:155.5px;top:101px;font-size:12.4px;color:#4a6fa8">1788.8</div>
<div class="t" style="left:200px;top:101px;font-size:12.4px;color:#4a6fa8">1778.1</div>
<div style="position:absolute;left:15px;top:120px;width:26px;height:19.5px;border:1px solid #e2e4e8;border-radius:2px;background:#fff;box-sizing:content-box"></div>
<svg class="ic" style="left:22px;top:124px" width="13" height="13" viewBox="0 0 13 13"><path d="M3 8.2l3.5-3.4L10 8.2" stroke="#1f222b" stroke-width="1.5" fill="none" stroke-linecap="round" stroke-linejoin="round"/></svg>
<div class="ax" style="top:42.6px;height:8px;overflow:hidden"><div style="margin-top:-3.5px">1810.0</div></div>
<div class="ax" style="top:83.5px">1800.0</div>
<div class="ax" style="top:125.7px">1790.0</div>
<div class="ax" style="top:167.9px">1780.0</div>
<div class="ax" style="top:210.1px">1770.0</div>
<div class="ax" style="top:252.2px">1760.0</div>
<div class="ax" style="top:294.4px">1750.0</div>
<div class="ax" style="top:336.6px">1740.0</div>
<div class="ax" style="top:378.8px">1730.0</div>
<div class="ax" style="top:421.0px">1720.0</div>
<div class="ax" style="top:463.2px">1710.0</div>
<div style="position:absolute;left:991px;top:49px;width:35px;height:17px;border:1px solid #e4e6ea;border-radius:2px;background:#fff"></div>
<div class="t" style="left:995.6px;top:52.6px;font-size:11.2px;letter-spacing:-0.6px;color:#3a3e4a">USD</div>
<svg class="ic" style="left:1017.4px;top:54.6px" width="8" height="8" viewBox="0 0 8 8"><path d="M1.5 2.5L4 5l2.5-2.5" stroke="#3a3e4a" stroke-width="1.1" fill="none"/></svg>
<div style="position:absolute;left:981.5px;top:161.2px;width:51px;height:16.3px;background:#df4a4d;border-radius:2px"></div>
<div class="t" style="left:992px;top:163.5px;font-size:12px;font-weight:bold;color:#fff;letter-spacing:0.1px">1781.2</div>
<div class="day" style="left:5.7px">11</div>
<div class="day" style="left:119.5px">12</div>
<div class="day" style="left:232.5px">13</div>
<div class="day" style="left:365.0px">16</div>
<div class="day" style="left:459.5px">17</div>
<div class="day" style="left:573.0px">18</div>
<div class="day" style="left:686.3px">19</div>
<div class="day" style="left:799.8px">20</div>
<div class="day" style="left:932.3px">23</div>
</body></html>
